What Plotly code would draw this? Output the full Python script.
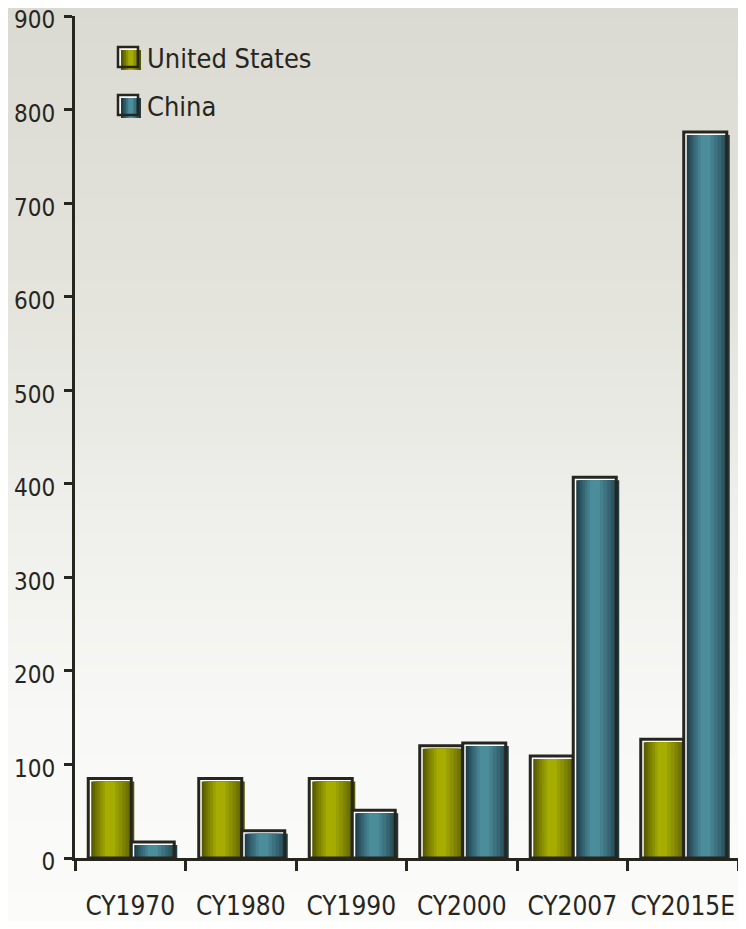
import plotly.graph_objects as go

# ---------------- data ----------------
categories = ["CY1970", "CY1980", "CY1990", "CY2000", "CY2007", "CY2015E"]
us_values = [85, 85, 85, 120, 109, 127]
china_values = [17, 29, 51, 123, 407, 776]
series_names = ["United States", "China"]
y_tick_values = [0, 100, 200, 300, 400, 500, 600, 700, 800, 900]

# ---------------- layout geometry (page pixels) ----------------
PAGE_W, PAGE_H = 746, 929
OFF = 8                      # default body margin of the html page
W, H = PAGE_W - 2 * OFF, PAGE_H - 2 * OFF
PX_L, PX_R, PX_T, PX_B = 75, OFF + W, 16, 858     # plot area in page pixels
ML, MT = PX_L - OFF, PX_T - OFF
MR, MB = OFF + W - PX_R, OFF + H - PX_B
PW, PH = PX_R - PX_L, PX_B - PX_T
YMAX = 900
CAT_PX = PW / len(categories)

def ux(px):          # pixel width -> category units
    return px / CAT_PX

def uy(px):          # pixel height -> value units
    return px * YMAX / PH

def paper_x(px):
    return (px - PX_L) / PW

def paper_y(py):
    return (PX_B - py) / PH

FONT = "Liberation Sans Narrow, Arial Narrow, DejaVu Sans Condensed, sans-serif"
INK = "#26261f"

BAR_PX = 43
SHIFT = 3
series = [
    dict(name=series_names[0], values=us_values, off_px=-42,
         dark=(0x55, 0x58, 0x00), light=(0xa6, 0xad, 0x00)),
    dict(name=series_names[1], values=china_values, off_px=1,
         dark=(0x1e, 0x3d, 0x47), light=(0x4c, 0x8d, 0x9c)),
]

# stripes (left fraction, right fraction) from outer to inner
stripes = [(0.0, 1.0), (0.04, 0.94), (0.09, 0.87), (0.14, 0.80),
           (0.20, 0.72), (0.26, 0.63), (0.32, 0.55)]

def mix(c1, c2, t):
    return "rgb(%d,%d,%d)" % tuple(round(a + (b - a) * t) for a, b in zip(c1, c2))

fig = go.Figure()

for s in series:
    # white backing at outline position
    fig.add_trace(go.Bar(
        x=categories, y=s["values"], width=ux(BAR_PX), offset=ux(s["off_px"]),
        marker=dict(color="#ffffff", line=dict(width=0)),
        hoverinfo="skip", showlegend=False))
    # cylinder-shaded fill, shifted right/down
    n = len(stripes)
    for k, (lf, rf) in enumerate(stripes):
        t = k / (n - 1)
        fig.add_trace(go.Bar(
            x=categories, y=s["values"], base=-uy(SHIFT),
            width=ux(BAR_PX * (rf - lf)),
            offset=ux(s["off_px"] + SHIFT + BAR_PX * lf),
            marker=dict(color=mix(s["dark"], s["light"], t), line=dict(width=0)),
            cliponaxis=False, name=s["name"], showlegend=False))
    # dark outline
    fig.add_trace(go.Bar(
        x=categories, y=s["values"], width=ux(BAR_PX), offset=ux(s["off_px"]),
        marker=dict(color="rgba(0,0,0,0)", line=dict(color=INK, width=3)),
        hoverinfo="skip", showlegend=False, cliponaxis=False))

# ---------------- background gradient ----------------
stops = [(0, (0xda, 0xda, 0xd2)), (300, (0xe4, 0xe4, 0xdd)), (500, (0xee, 0xee, 0xea)),
         (720, (0xf8, 0xf8, 0xf6)), (929, (0xfb, 0xfb, 0xfa))]

def bg_color(py):
    for (p0, c0), (p1, c1) in zip(stops[:-1], stops[1:]):
        if p0 <= py <= p1:
            return mix(c0, c1, (py - p0) / (p1 - p0))
    return mix(stops[-1][1], stops[-1][1], 0)

shapes = []
step = 6
for py in range(0, PAGE_H, step):
    shapes.append(dict(type="rect", xref="paper", yref="paper", layer="below",
                       x0=paper_x(0), x1=paper_x(PAGE_W), y0=paper_y(py + step + 0.5),
                       y1=paper_y(py), fillcolor=bg_color(py + step / 2),
                       line=dict(width=0)))

# ---------------- manual legend ----------------
annotations = []
for i, s in enumerate(series):
    top = 47 + i * 48
    left = 118
    size = 20
    shapes.append(dict(type="rect", xref="paper", yref="paper", layer="above",
                       x0=paper_x(left), x1=paper_x(left + size),
                       y0=paper_y(top + size), y1=paper_y(top),
                       fillcolor="#ffffff", line=dict(width=0)))
    nst = 4
    for k in range(nst):
        lf = [0.0, 0.12, 0.25, 0.36][k]
        rf = [1.0, 0.88, 0.75, 0.62][k]
        shapes.append(dict(type="rect", xref="paper", yref="paper", layer="above",
                           x0=paper_x(left + 3 + size * lf), x1=paper_x(left + 3 + size * rf),
                           y0=paper_y(top + size + 3), y1=paper_y(top + 3),
                           fillcolor=mix(s["dark"], s["light"], k / (nst - 1)),
                           line=dict(width=0)))
    shapes.append(dict(type="rect", xref="paper", yref="paper", layer="above",
                       x0=paper_x(left), x1=paper_x(left + size),
                       y0=paper_y(top + size), y1=paper_y(top),
                       fillcolor="rgba(0,0,0,0)", line=dict(color=INK, width=2.5)))
    annotations.append(dict(xref="paper", yref="paper", x=paper_x(145), y=paper_y(top + 11),
                            xanchor="left", yanchor="middle", showarrow=False,
                            text=s["name"], font=dict(family=FONT, size=27, color=INK)))

fig.update_layout(
    width=W, height=H,
    margin=dict(l=ML, r=MR, t=MT, b=MB, pad=0, autoexpand=False),
    barmode="overlay",
    showlegend=False,
    paper_bgcolor="#fbfbfa",
    plot_bgcolor="rgba(0,0,0,0)",
    shapes=shapes,
    annotations=annotations,
    font=dict(family=FONT, color=INK),
    xaxis=dict(type="category", categoryorder="array", categoryarray=categories,
               range=[-0.5, len(categories) - 0.5], automargin=False, tickangle=0,
               showline=True, linecolor=INK, linewidth=3,
               ticks="outside", tickson="boundaries", ticklen=10, tickwidth=3,
               tickcolor=INK, showgrid=False, zeroline=False,
               tickfont=dict(family=FONT, size=26, color=INK),
               ticklabelstandoff=23, ticklabeloverflow="allow"),
    yaxis=dict(range=[0, YMAX], tickmode="array", tickvals=y_tick_values,
               ticktext=[str(v) for v in y_tick_values], automargin=False,
               showline=True, linecolor=INK, linewidth=3,
               ticks="outside", ticklen=8, tickwidth=3, tickcolor=INK,
               showgrid=False, zeroline=False,
               tickfont=dict(family=FONT, size=24, color=INK),
               ticklabelstandoff=4, ticklabelshift=4, ticklabeloverflow="allow"),
)

fig.write_html("out.html")
